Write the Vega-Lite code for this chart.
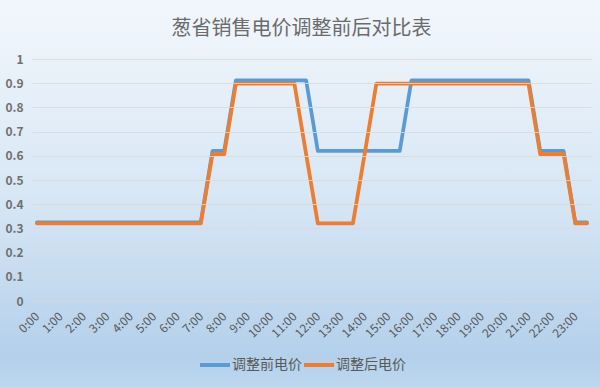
{
  "$schema": "https://vega.github.io/schema/vega-lite/v6.json",
  "width": 559,
  "height": 242,
  "autosize": {"type": "none"},
  "padding": {"left": 32, "top": 59, "right": 9, "bottom": 86},
  "background": "#d6e6f5",
  "title": {
    "text": "葱省销售电价调整前后对比表",
    "font": "Noto Sans CJK SC",
    "fontSize": 20,
    "fontWeight": "normal",
    "color": "#6b6b6b",
    "anchor": "middle",
    "frame": "group",
    "dx": -10,
    "offset": 0,
    "dy": 40
  },
  "config": {
    "view": {"stroke": null},
    "font": "Noto Sans CJK SC"
  },
  "resolve": {"axis": {"x": "independent", "y": "independent"}},
  "layer": [
    {
      "data": {"values": [{"bg": 1}]},
      "mark": {
        "type": "rect",
        "clip": false,
        "color": {
          "gradient": "linear",
          "x1": 0, "y1": 0, "x2": 0, "y2": 1,
          "stops": [
            {"offset": 0, "color": "#f3f7fc"},
            {"offset": 0.5, "color": "#d8e7f5"},
            {"offset": 0.92, "color": "#b4d0eb"},
            {"offset": 1, "color": "#bdd7ee"}
          ]
        }
      },
      "encoding": {
        "x": {"datum": -1.6, "type": "quantitative", "axis": null},
        "x2": {"datum": 24.1},
        "y": {"datum": 1.25, "type": "quantitative", "axis": null},
        "y2": {"datum": -0.36}
      }
    },
    {
      "data": {
        "values": [
          {"h": 0, "series": "调整前电价", "price": 0.325},
          {"h": 0.5, "series": "调整前电价", "price": 0.325},
          {"h": 1, "series": "调整前电价", "price": 0.325},
          {"h": 1.5, "series": "调整前电价", "price": 0.325},
          {"h": 2, "series": "调整前电价", "price": 0.325},
          {"h": 2.5, "series": "调整前电价", "price": 0.325},
          {"h": 3, "series": "调整前电价", "price": 0.325},
          {"h": 3.5, "series": "调整前电价", "price": 0.325},
          {"h": 4, "series": "调整前电价", "price": 0.325},
          {"h": 4.5, "series": "调整前电价", "price": 0.325},
          {"h": 5, "series": "调整前电价", "price": 0.325},
          {"h": 5.5, "series": "调整前电价", "price": 0.325},
          {"h": 6, "series": "调整前电价", "price": 0.325},
          {"h": 6.5, "series": "调整前电价", "price": 0.325},
          {"h": 7, "series": "调整前电价", "price": 0.325},
          {"h": 7.5, "series": "调整前电价", "price": 0.62},
          {"h": 8, "series": "调整前电价", "price": 0.62},
          {"h": 8.5, "series": "调整前电价", "price": 0.912},
          {"h": 9, "series": "调整前电价", "price": 0.912},
          {"h": 9.5, "series": "调整前电价", "price": 0.912},
          {"h": 10, "series": "调整前电价", "price": 0.912},
          {"h": 10.5, "series": "调整前电价", "price": 0.912},
          {"h": 11, "series": "调整前电价", "price": 0.912},
          {"h": 11.5, "series": "调整前电价", "price": 0.912},
          {"h": 12, "series": "调整前电价", "price": 0.62},
          {"h": 12.5, "series": "调整前电价", "price": 0.62},
          {"h": 13, "series": "调整前电价", "price": 0.62},
          {"h": 13.5, "series": "调整前电价", "price": 0.62},
          {"h": 14, "series": "调整前电价", "price": 0.62},
          {"h": 14.5, "series": "调整前电价", "price": 0.62},
          {"h": 15, "series": "调整前电价", "price": 0.62},
          {"h": 15.5, "series": "调整前电价", "price": 0.62},
          {"h": 16, "series": "调整前电价", "price": 0.912},
          {"h": 16.5, "series": "调整前电价", "price": 0.912},
          {"h": 17, "series": "调整前电价", "price": 0.912},
          {"h": 17.5, "series": "调整前电价", "price": 0.912},
          {"h": 18, "series": "调整前电价", "price": 0.912},
          {"h": 18.5, "series": "调整前电价", "price": 0.912},
          {"h": 19, "series": "调整前电价", "price": 0.912},
          {"h": 19.5, "series": "调整前电价", "price": 0.912},
          {"h": 20, "series": "调整前电价", "price": 0.912},
          {"h": 20.5, "series": "调整前电价", "price": 0.912},
          {"h": 21, "series": "调整前电价", "price": 0.912},
          {"h": 21.5, "series": "调整前电价", "price": 0.62},
          {"h": 22, "series": "调整前电价", "price": 0.62},
          {"h": 22.5, "series": "调整前电价", "price": 0.62},
          {"h": 23, "series": "调整前电价", "price": 0.325},
          {"h": 23.5, "series": "调整前电价", "price": 0.325},
          {"h": 0, "series": "调整后电价", "price": 0.321},
          {"h": 0.5, "series": "调整后电价", "price": 0.321},
          {"h": 1, "series": "调整后电价", "price": 0.321},
          {"h": 1.5, "series": "调整后电价", "price": 0.321},
          {"h": 2, "series": "调整后电价", "price": 0.321},
          {"h": 2.5, "series": "调整后电价", "price": 0.321},
          {"h": 3, "series": "调整后电价", "price": 0.321},
          {"h": 3.5, "series": "调整后电价", "price": 0.321},
          {"h": 4, "series": "调整后电价", "price": 0.321},
          {"h": 4.5, "series": "调整后电价", "price": 0.321},
          {"h": 5, "series": "调整后电价", "price": 0.321},
          {"h": 5.5, "series": "调整后电价", "price": 0.321},
          {"h": 6, "series": "调整后电价", "price": 0.321},
          {"h": 6.5, "series": "调整后电价", "price": 0.321},
          {"h": 7, "series": "调整后电价", "price": 0.321},
          {"h": 7.5, "series": "调整后电价", "price": 0.607},
          {"h": 8, "series": "调整后电价", "price": 0.607},
          {"h": 8.5, "series": "调整后电价", "price": 0.898},
          {"h": 9, "series": "调整后电价", "price": 0.898},
          {"h": 9.5, "series": "调整后电价", "price": 0.898},
          {"h": 10, "series": "调整后电价", "price": 0.898},
          {"h": 10.5, "series": "调整后电价", "price": 0.898},
          {"h": 11, "series": "调整后电价", "price": 0.898},
          {"h": 11.5, "series": "调整后电价", "price": 0.607},
          {"h": 12, "series": "调整后电价", "price": 0.321},
          {"h": 12.5, "series": "调整后电价", "price": 0.321},
          {"h": 13, "series": "调整后电价", "price": 0.321},
          {"h": 13.5, "series": "调整后电价", "price": 0.321},
          {"h": 14, "series": "调整后电价", "price": 0.607},
          {"h": 14.5, "series": "调整后电价", "price": 0.898},
          {"h": 15, "series": "调整后电价", "price": 0.898},
          {"h": 15.5, "series": "调整后电价", "price": 0.898},
          {"h": 16, "series": "调整后电价", "price": 0.898},
          {"h": 16.5, "series": "调整后电价", "price": 0.898},
          {"h": 17, "series": "调整后电价", "price": 0.898},
          {"h": 17.5, "series": "调整后电价", "price": 0.898},
          {"h": 18, "series": "调整后电价", "price": 0.898},
          {"h": 18.5, "series": "调整后电价", "price": 0.898},
          {"h": 19, "series": "调整后电价", "price": 0.898},
          {"h": 19.5, "series": "调整后电价", "price": 0.898},
          {"h": 20, "series": "调整后电价", "price": 0.898},
          {"h": 20.5, "series": "调整后电价", "price": 0.898},
          {"h": 21, "series": "调整后电价", "price": 0.898},
          {"h": 21.5, "series": "调整后电价", "price": 0.607},
          {"h": 22, "series": "调整后电价", "price": 0.607},
          {"h": 22.5, "series": "调整后电价", "price": 0.607},
          {"h": 23, "series": "调整后电价", "price": 0.321},
          {"h": 23.5, "series": "调整后电价", "price": 0.321}
        ]
      },
      "mark": {"type": "line", "strokeWidth": 3.75, "strokeJoin": "round", "strokeCap": "round"},
      "encoding": {
        "x": {
          "field": "h",
          "type": "quantitative",
          "scale": {"domain": [-0.21, 23.67], "nice": false, "zero": false},
          "axis": {
            "orient": "bottom",
            "title": null,
            "values": [0,1,2,3,4,5,6,7,8,9,10,11,12,13,14,15,16,17,18,19,20,21,22,23],
            "labelExpr": "datum.value + ':00'",
            "labelAngle": -45,
            "labelAlign": "right",
            "labelBaseline": "middle",
            "labelFontSize": 12,
            "labelColor": "#595959",
            "labelPadding": 13,
            "labelOverlap": false,
            "labelBound": false,
            "labelFlush": false,
            "grid": false,
            "ticks": false,
            "domain": false,
            "zindex": 1
          }
        },
        "y": {
          "field": "price",
          "type": "quantitative",
          "scale": {"domain": [0, 1], "nice": false},
          "axis": {
            "orient": "left",
            "title": null,
            "values": [0,0.1,0.2,0.3,0.4,0.5,0.6,0.7,0.8,0.9,1],
            "format": ".1~f",
            "labelOverlap": false,
            "labelFontSize": 12,
            "labelFontWeight": "bold",
            "labelColor": "#707070",
            "labelPadding": 9,
            "grid": true,
            "gridColor": "#d9d9d9",
            "gridOpacity": 0.8,
            "ticks": false,
            "domain": false,
            "zindex": 1
          }
        },
        "color": {
          "field": "series",
          "type": "nominal",
          "sort": ["调整前电价", "调整后电价"],
          "scale": {"domain": ["调整前电价", "调整后电价"], "range": ["#5b9bd5", "#ed7d31"]},
          "legend": {
            "title": null,
            "orient": "none",
            "legendX": 166,
            "legendY": 289,
            "direction": "horizontal",
            "symbolType": "stroke",
            "symbolStrokeWidth": 4,
            "symbolSize": 900,
            "labelFontSize": 14,
            "labelColor": "#595959",
            "labelOffset": 0,
            "columnPadding": -12
          }
        }
      }
    }
  ]
}
